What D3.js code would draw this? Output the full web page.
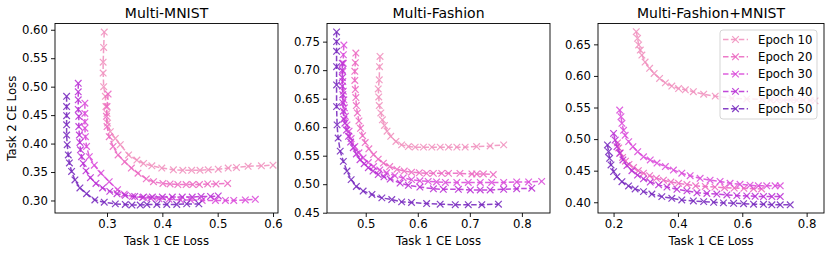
<!DOCTYPE html>
<html><head><meta charset="utf-8">
<script src="https://cdn.jsdelivr.net/npm/d3@7"></script>
<style>body{margin:0;background:#fff}svg{display:block;font-family:"DejaVu Sans",sans-serif}</style>
</head><body><svg id="c" width="830" height="255"></svg>
<script>
// ---- data ----
const epochs = ["Epoch 10","Epoch 20","Epoch 30","Epoch 40","Epoch 50"];
const titles = ["Multi-MNIST","Multi-Fashion","Multi-Fashion+MNIST"];
const xTicks = [[0.3,0.4,0.5,0.6],[0.5,0.6,0.7,0.8],[0.2,0.4,0.6,0.8]];
const yTicks = [[0.30,0.35,0.40,0.45,0.50,0.55,0.60],[0.45,0.50,0.55,0.60,0.65,0.70,0.75],[0.40,0.45,0.50,0.55,0.60,0.65]];

const mnist10 = [[0.295,0.596],[0.294,0.569],[0.293,0.543],[0.293,0.524],[0.294,0.500],[0.297,0.483],[0.298,0.465],[0.300,0.453],[0.301,0.436],[0.306,0.421],[0.315,0.409],[0.324,0.398],[0.339,0.380],[0.354,0.371],[0.366,0.365],[0.381,0.361],[0.399,0.357],[0.420,0.354],[0.437,0.353],[0.453,0.353],[0.468,0.353],[0.483,0.354],[0.501,0.355],[0.519,0.357],[0.534,0.358],[0.555,0.360],[0.579,0.361],[0.600,0.362]];
const mnist20 = [[0.302,0.487],[0.300,0.465],[0.299,0.448],[0.300,0.430],[0.304,0.412],[0.311,0.395],[0.320,0.380],[0.332,0.368],[0.344,0.357],[0.356,0.348],[0.371,0.338],[0.384,0.333],[0.401,0.330],[0.414,0.329],[0.428,0.328],[0.443,0.328],[0.455,0.328],[0.467,0.328],[0.482,0.329],[0.497,0.329],[0.518,0.330]];
const mnist30 = [[0.260,0.471],[0.260,0.453],[0.260,0.438],[0.260,0.427],[0.261,0.412],[0.263,0.395],[0.268,0.377],[0.277,0.362],[0.289,0.348],[0.304,0.333],[0.319,0.319],[0.331,0.311],[0.346,0.307],[0.364,0.305],[0.379,0.304],[0.394,0.303],[0.412,0.302],[0.433,0.301],[0.451,0.301],[0.472,0.300],[0.496,0.300],[0.514,0.300],[0.529,0.300],[0.550,0.301],[0.568,0.302]];
const mnist40 = [[0.248,0.506],[0.248,0.491],[0.248,0.477],[0.248,0.460],[0.249,0.448],[0.249,0.430],[0.250,0.415],[0.251,0.402],[0.252,0.389],[0.254,0.377],[0.257,0.365],[0.262,0.352],[0.270,0.340],[0.280,0.330],[0.292,0.322],[0.305,0.316],[0.318,0.312],[0.333,0.309],[0.350,0.307],[0.366,0.306],[0.382,0.306],[0.400,0.306],[0.418,0.306],[0.436,0.306],[0.454,0.306],[0.470,0.307],[0.487,0.307],[0.501,0.308]];
const mnist50 = [[0.227,0.483],[0.227,0.465],[0.227,0.449],[0.227,0.433],[0.227,0.415],[0.228,0.398],[0.230,0.380],[0.232,0.366],[0.236,0.351],[0.242,0.336],[0.251,0.322],[0.263,0.312],[0.278,0.301],[0.295,0.297],[0.315,0.294],[0.333,0.293],[0.345,0.292],[0.360,0.292],[0.372,0.293],[0.390,0.293],[0.408,0.293],[0.426,0.293],[0.444,0.294],[0.466,0.294]];

const fashion10 = [[0.5275,0.724],[0.5265,0.706],[0.526,0.683],[0.524,0.667],[0.525,0.653],[0.526,0.638],[0.529,0.625],[0.532,0.613],[0.536,0.603],[0.541,0.593],[0.548,0.584],[0.558,0.575],[0.569,0.569],[0.582,0.566],[0.595,0.565],[0.611,0.565],[0.627,0.565],[0.643,0.565],[0.659,0.565],[0.675,0.565],[0.691,0.565],[0.713,0.566],[0.739,0.567],[0.765,0.569]];
const fashion20 = [[0.481,0.730],[0.480,0.713],[0.479,0.698],[0.479,0.682],[0.480,0.666],[0.481,0.652],[0.482,0.638],[0.484,0.625],[0.487,0.611],[0.490,0.598],[0.494,0.585],[0.499,0.573],[0.506,0.562],[0.515,0.552],[0.524,0.544],[0.534,0.537],[0.546,0.531],[0.560,0.526],[0.574,0.523],[0.588,0.521],[0.603,0.520],[0.617,0.519],[0.630,0.519],[0.646,0.519],[0.659,0.519],[0.681,0.519],[0.704,0.518],[0.713,0.518],[0.726,0.518],[0.745,0.517]];
const fashion30 = [[0.458,0.744],[0.457,0.727],[0.457,0.712],[0.456,0.698],[0.456,0.680],[0.457,0.663],[0.458,0.648],[0.459,0.634],[0.461,0.619],[0.464,0.604],[0.468,0.593],[0.472,0.580],[0.479,0.566],[0.487,0.555],[0.495,0.546],[0.505,0.538],[0.515,0.531],[0.527,0.525],[0.540,0.520],[0.556,0.515],[0.572,0.511],[0.588,0.508],[0.604,0.506],[0.620,0.505],[0.636,0.504],[0.653,0.503],[0.675,0.503],[0.697,0.503],[0.720,0.503],[0.742,0.503],[0.765,0.503],[0.790,0.504],[0.813,0.504],[0.838,0.505]];
const fashion40 = [[0.455,0.712],[0.455,0.700],[0.455,0.687],[0.455,0.672],[0.456,0.657],[0.456,0.643],[0.457,0.628],[0.458,0.614],[0.460,0.607],[0.463,0.595],[0.467,0.584],[0.471,0.574],[0.476,0.564],[0.482,0.553],[0.489,0.543],[0.497,0.536],[0.505,0.529],[0.514,0.523],[0.524,0.517],[0.535,0.513],[0.547,0.509],[0.566,0.502],[0.582,0.498],[0.604,0.495],[0.630,0.492],[0.649,0.491],[0.678,0.491],[0.701,0.490],[0.720,0.490],[0.739,0.490],[0.765,0.491],[0.790,0.492],[0.819,0.493]];
const fashion50 = [[0.444,0.767],[0.444,0.750],[0.444,0.733],[0.444,0.706],[0.444,0.674],[0.444,0.636],[0.445,0.604],[0.447,0.581],[0.451,0.558],[0.457,0.540],[0.464,0.523],[0.472,0.508],[0.482,0.496],[0.495,0.488],[0.512,0.482],[0.531,0.476],[0.550,0.473],[0.569,0.469],[0.588,0.468],[0.617,0.466],[0.643,0.465],[0.672,0.464],[0.697,0.464],[0.723,0.464],[0.755,0.465]];

const fm10 = [[0.2705,0.670],[0.2745,0.6595],[0.278,0.649],[0.283,0.641],[0.288,0.633],[0.298,0.622],[0.312,0.612],[0.326,0.604],[0.343,0.596],[0.361,0.589],[0.381,0.584],[0.402,0.580],[0.423,0.578],[0.448,0.575],[0.480,0.571],[0.516,0.568],[0.568,0.5645],[0.614,0.5635],[0.661,0.563],[0.687,0.562],[0.707,0.562],[0.728,0.562],[0.749,0.562],[0.770,0.5615],[0.790,0.5615],[0.811,0.561],[0.826,0.5605]];
const fm20 = [[0.212,0.494],[0.216,0.486],[0.221,0.478],[0.228,0.471],[0.237,0.465],[0.248,0.460],[0.262,0.455],[0.277,0.450],[0.293,0.446],[0.312,0.442],[0.333,0.438],[0.355,0.435],[0.378,0.432],[0.402,0.430],[0.428,0.428],[0.455,0.426],[0.485,0.425],[0.515,0.424],[0.545,0.423],[0.575,0.4225],[0.605,0.422],[0.635,0.4215],[0.660,0.421]];
const fm30 = [[0.219,0.546],[0.223,0.5355],[0.226,0.525],[0.231,0.514],[0.236,0.506],[0.247,0.496],[0.260,0.488],[0.275,0.480],[0.293,0.472],[0.314,0.467],[0.335,0.462],[0.361,0.4565],[0.386,0.451],[0.412,0.446],[0.438,0.442],[0.469,0.438],[0.500,0.435],[0.531,0.433],[0.562,0.430],[0.593,0.4285],[0.624,0.427],[0.650,0.426],[0.676,0.426],[0.702,0.426],[0.718,0.426]];
const fm40 = [[0.200,0.509],[0.205,0.4985],[0.2105,0.488],[0.219,0.4775],[0.229,0.467],[0.2415,0.458],[0.257,0.450],[0.2745,0.443],[0.293,0.437],[0.314,0.432],[0.340,0.4275],[0.366,0.424],[0.397,0.4205],[0.428,0.418],[0.459,0.415],[0.490,0.414],[0.521,0.413],[0.552,0.4115],[0.583,0.4105],[0.614,0.410],[0.640,0.4095],[0.666,0.409],[0.692,0.409],[0.718,0.409]];
const fm50 = [[0.181,0.4907],[0.1845,0.480],[0.1876,0.4696],[0.192,0.459],[0.200,0.4485],[0.2105,0.4405],[0.226,0.4326],[0.2465,0.4258],[0.267,0.421],[0.293,0.4168],[0.319,0.413],[0.350,0.4089],[0.381,0.4063],[0.412,0.4036],[0.448,0.402],[0.480,0.401],[0.511,0.400],[0.5415,0.399],[0.573,0.3984],[0.604,0.3978],[0.635,0.397],[0.666,0.3968],[0.692,0.396],[0.718,0.396],[0.749,0.396]];

const seriesByPanel = [
  [mnist10, mnist20, mnist30, mnist40, mnist50],
  [fashion10, fashion20, fashion30, fashion40, fashion50],
  [fm10, fm20, fm30, fm40, fm50]
];
const xDomains = [[0.206,0.609],[0.4256,0.854],[0.1516,0.854]];
const yDomains = [[0.278,0.611],[0.4495,0.7818],[0.383,0.683]];

// ---- layout / style ----
const colors = ["#f193c0","#ec6cc3","#dc50dc","#bb34d6","#7a2ec0"];
const panelX = [[55,278],[327,550],[598,824]];
const plotTop = 23.5, plotBottom = 213;
const svg = d3.select("#c");
const fmt = d3.format(".2f");

panelX.forEach((px, i) => {
  const x = d3.scaleLinear().domain(xDomains[i]).range(px);
  const y = d3.scaleLinear().domain(yDomains[i]).range([plotBottom, plotTop]);
  const g = svg.append("g");

  const line = d3.line().x(d => x(d[0])).y(d => y(d[1]));
  seriesByPanel[i].forEach((s, k) => {
    g.append("path").datum(s).attr("d", line)
      .attr("fill","none").attr("stroke",colors[k]).attr("stroke-width",1.5)
      .attr("stroke-dasharray","5.5,2.4").attr("opacity",0.9);
    const ms = 3.3;
    g.selectAll(null).data(s).enter().append("path")
      .attr("d", d => { const cx=x(d[0]), cy=y(d[1]);
        return `M${cx-ms},${cy-ms}L${cx+ms},${cy+ms}M${cx-ms},${cy+ms}L${cx+ms},${cy-ms}`; })
      .attr("stroke",colors[k]).attr("stroke-width",1.2).attr("fill","none").attr("opacity",0.9);
  });

  const xa = svg.append("g").attr("transform",`translate(0,${plotBottom})`)
    .call(d3.axisBottom(x).tickValues(xTicks[i]).tickFormat(d3.format(".1f")).tickSizeOuter(0).tickSize(4).tickPadding(3));
  const ya = svg.append("g").attr("transform",`translate(${px[0]},0)`)
    .call(d3.axisLeft(y).tickValues(yTicks[i]).tickFormat(fmt).tickSizeOuter(0).tickSize(4).tickPadding(3));
  [xa, ya].forEach(a => {
    a.select(".domain").remove();
    a.selectAll("text").attr("font-size","11.7px").attr("fill","#000").attr("font-family","DejaVu Sans");
    a.selectAll("line").attr("stroke","#000").attr("stroke-width",0.9);
  });
  svg.append("rect").attr("x",px[0]).attr("y",plotTop).attr("width",px[1]-px[0]).attr("height",plotBottom-plotTop)
    .attr("fill","none").attr("stroke","#000").attr("stroke-width",0.9);

  svg.append("text").attr("x",(px[0]+px[1])/2).attr("y",17.5).attr("text-anchor","middle")
    .attr("font-size","14px").text(titles[i]);
  svg.append("text").attr("x",(px[0]+px[1])/2).attr("y",245).attr("text-anchor","middle")
    .attr("font-size","11.7px").text("Task 1 CE Loss");
});

svg.append("text").attr("transform",`translate(16,${(plotTop+plotBottom)/2}) rotate(-90)`)
  .attr("text-anchor","middle").attr("font-size","11.7px").text("Task 2 CE Loss");

const lg = svg.append("g").attr("transform","translate(720,30)");
lg.append("rect").attr("width",97).attr("height",89).attr("rx",3)
  .attr("fill","#fff").attr("fill-opacity",0.8).attr("stroke","#d0d0d0").attr("stroke-width",0.9);
epochs.forEach((e, k) => {
  const yy = 9.5 + k*17.3;
  lg.append("line").attr("x1",3).attr("x2",28).attr("y1",yy).attr("y2",yy)
    .attr("stroke",colors[k]).attr("stroke-width",1.5).attr("stroke-dasharray","5.5,2.4").attr("opacity",0.9);
  const ms=3.3, cx=15.5;
  lg.append("path").attr("d",`M${cx-ms},${yy-ms}L${cx+ms},${yy+ms}M${cx-ms},${yy+ms}L${cx+ms},${yy-ms}`)
    .attr("stroke",colors[k]).attr("stroke-width",1.2).attr("opacity",0.9);
  lg.append("text").attr("x",38).attr("y",yy+4.2).attr("font-size","11.7px").text(e);
});
</script></body></html>
